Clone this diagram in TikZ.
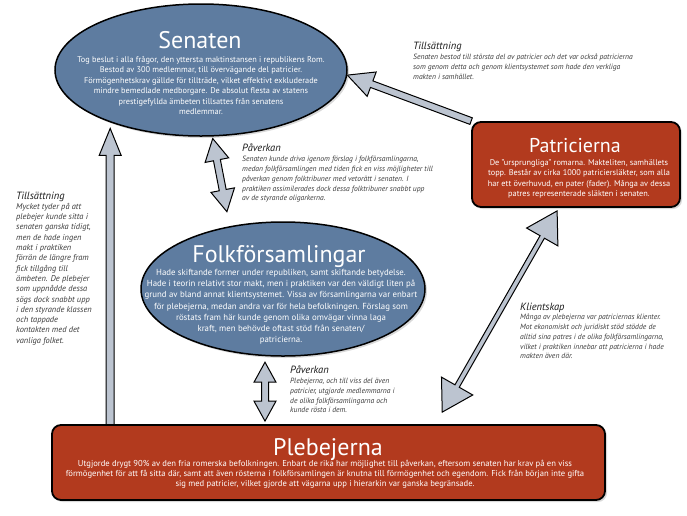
\documentclass[tikz,border=0pt]{standalone}
\usepackage{fontspec}
\setmainfont{PT Sans}
\usetikzlibrary{shapes.geometric,calc,shadows}

\definecolor{senblue}{HTML}{5E7CA0}
\definecolor{patred}{HTML}{B23A1E}
\definecolor{pilgra}{HTML}{BCC4D0}
\definecolor{anttext}{HTML}{3A3A3A}

\pgfdeclarelayer{bakgrund}
\pgfsetlayers{bakgrund,main}

% tjock pil: #1 skaft, #2 spetsens halva bredd, #3 spetsens langd, #4 fran, #5 till
\newcommand{\fatarrow}[5]{%
  \coordinate (fa1) at ($(#5)!#3!(#4)$);
  \filldraw[pil] ($(#4)!#1!90:(#5)$) -- ($(fa1)!#1!90:(#5)$) -- ($(fa1)!#2!90:(#5)$) -- (#5)
    -- ($(fa1)!#2!-90:(#5)$) -- ($(fa1)!#1!-90:(#5)$) -- ($(#4)!#1!-90:(#5)$) -- cycle;}
% tjock dubbelpil
\newcommand{\fatdarrow}[5]{%
  \coordinate (fa1) at ($(#5)!#3!(#4)$);
  \coordinate (fa2) at ($(#4)!#3!(#5)$);
  \filldraw[pil] (#4) -- ($(fa2)!#2!90:(#5)$) -- ($(fa2)!#1!90:(#5)$) -- ($(fa1)!#1!90:(#5)$)
    -- ($(fa1)!#2!90:(#5)$) -- (#5) -- ($(fa1)!#2!-90:(#5)$) -- ($(fa1)!#1!-90:(#5)$)
    -- ($(fa2)!#1!-90:(#5)$) -- ($(fa2)!#2!-90:(#5)$) -- cycle;}

\begin{document}
\begin{tikzpicture}[x=1pt,y=-1pt,
    ellipsebox/.style={ellipse, draw=black, line width=1.5pt, fill=senblue, inner sep=0pt,
      drop shadow={opacity=0.3,shadow xshift=2pt,shadow yshift=-2pt}},
    rutbox/.style={rectangle, rounded corners=9pt, draw=black, line width=1.8pt, fill=patred, inner sep=0pt,
      drop shadow={opacity=0.3,shadow xshift=2pt,shadow yshift=-2pt}},
    rubrik/.style={text=white, anchor=base, inner sep=0pt, font=\fontsize{24}{24}\selectfont},
    brodtext/.style={text=white, align=center, anchor=north, inner sep=0pt, font=\fontsize{8.3}{10.5}\selectfont},
    notrubrik/.style={anchor=base west, inner sep=0pt, text=black!90, font=\fontsize{10.5}{10.5}\selectfont\itshape},
    nottext/.style={align=left, anchor=north west, inner sep=0pt, text=anttext, font=\fontsize{7.6}{9.8}\selectfont\itshape},
    pil/.style={fill=pilgra, draw=black, line width=1pt, line join=miter}]
  \useasboundingbox (0,0) rectangle (687,515);

  % Senaten
  \node at (201,70) (sen) [ellipsebox, minimum width=292pt, minimum height=132pt] {};
  \node at (200,48) (sentitel) [rubrik] {Senaten};
  \node at (201,56) (sentext) [brodtext] {Tog beslut i alla frågor, den yttersta maktinstansen i republikens Rom.\\
    Bestod av 300 medlemmar, till övervägande del patricier.\\
    Förmögenhetskrav gällde för tillträde, vilket effektivt exkluderade\\
    mindre bemedlade medborgare. De absolut flesta av statens\\
    prestigefyllda ämbeten tillsattes från senatens\\
    medlemmar.};

  % Patricierna
  \node at (576,164.5) (pat) [rutbox, minimum width=208pt, minimum height=85pt] {};
  \node at (575,152) (pattitel) [rubrik, font=\fontsize{20}{20}\selectfont] {Patricierna};
  \node at (579,159) (pattext) [brodtext] {De "ursprungliga" romarna. Makteliten, samhällets\\
    topp. Består av cirka 1000 patriciersläkter, som alla\\
    har ett överhuvud, en pater (fader). Många av dessa\\
    patres representerade släkten i senaten.};

  % Folkförsamlingar
  \node at (283,289) (folk) [ellipsebox, minimum width=284pt, minimum height=134pt] {};
  \node at (279,262) (folktitel) [rubrik] {Folkförsamlingar};
  \node at (281,269) (folktext) [brodtext, font=\fontsize{8.8}{11.2}\selectfont] {Hade skiftande former under republiken, samt skiftande betydelse.\\
    Hade i teorin relativt stor makt, men i praktiken var den väldigt liten på\\
    grund av bland annat klientsystemet. Vissa av församlingarna var enbart\\
    för plebejerna, medan andra var för hela befolkningen. Förslag som\\
    röstats fram här kunde genom olika omvägar vinna laga\\
    kraft, men behövde oftast stöd från senaten/\\
    patricierna.};

  % Plebejerna
  \node at (328.5,462.5) (pleb) [rutbox, minimum width=553pt, minimum height=75pt] {};
  \node at (328,455) (plebtitel) [rubrik] {Plebejerna};
  \node at (325,460) (plebtext) [brodtext, font=\fontsize{8.6}{9.8}\selectfont] {Utgjorde drygt 90\% av den fria romerska befolkningen. Enbart de rika har möjlighet till påverkan, eftersom senaten har krav på en viss\\
    förmögenhet för att få sitta där, samt att även rösterna i folkförsamlingen är knutna till förmögenhet och egendom. Fick från början inte gifta\\
    sig med patricier, vilket gjorde att vägarna upp i hierarkin var ganska begränsade.};

  % Texter vid pilarna
  \node at (413,49) (tills1) [notrubrik] {Tillsättning};
  \node at (413,54) (tills1text) [nottext] {Senaten bestod till största del av patricier och det var också patricierna\\
    som genom detta och genom klientsystemet som hade den verkliga\\
    makten i samhället.};
  \node at (242,151) (pav1) [notrubrik] {Påverkan};
  \node at (242,156) (pav1text) [nottext] {Senaten kunde driva igenom förslag i folkförsamlingarna,\\
    medan folkförsamlingen med tiden fick en viss möjligheter till\\
    påverkan genom folktribuner med vetorätt i senaten. I\\
    praktiken assimilerades dock dessa folktribuner snabbt upp\\
    av de styrande oligarkerna.};
  \node at (16,199) (tills2) [notrubrik] {Tillsättning};
  \node at (16,203) (tills2text) [nottext, font=\fontsize{8.4}{10.3}\selectfont\itshape] {Mycket tyder på att\\
    plebejer kunde sitta i\\
    senaten ganska tidigt,\\
    men de hade ingen\\
    makt i praktiken\\
    förrän de längre fram\\
    fick tillgång till\\
    ämbeten. De plebejer\\
    som uppnådde dessa\\
    sögs dock snabbt upp\\
    i den styrande klassen\\
    och tappade\\
    kontakten med det\\
    vanliga folket.};
  \node at (290,373) (pav2) [notrubrik] {Påverkan};
  \node at (290,378) (pav2text) [nottext] {Plebejerna, och till viss del även\\
    patricier, utgjorde medlemmarna i\\
    de olika folkförsamlingarna och\\
    kunde rösta i dem.};
  \node at (520,310) (klient) [notrubrik] {Klientskap};
  \node at (520,314) (klienttext) [nottext] {Många av plebejerna var patriciernas klienter.\\
    Mot ekonomiskt och juridiskt stöd stödde de\\
    alltid sina patres i de olika folkförsamlingarna,\\
    vilket i praktiken innebar att patricierna i hade\\
    makten även där.};

  % Pilar bakom rutorna
  \coordinate (t1) at ($(sen.210 |- pleb.north)+(0,5)$);
  \coordinate (t2) at ($(sen.210)+(0,6)$);
  \coordinate (s1) at ($(sen.-80)+(0,2)$);
  \coordinate (s2) at ($(folk.132)+(0,-15)$);
  \coordinate (f1) at ($(folk.-105)+(0,6)$);
  \coordinate (f2) at ($(folk.-105 |- pleb.north)+(0,-3)$);
  \coordinate (k1) at ($(pat.south west)!0.41!(pat.south east)+(0,3)$);
  \coordinate (k2) at ($(pleb.north west)!0.705!(pleb.north east)+(0,-12)$);
  \begin{pgfonlayer}{bakgrund}
    \fatarrow{4pt}{11pt}{27pt}{t1}{t2}
    \fatarrow{3.5pt}{13pt}{26pt}{pat.north west}{sen.-2}
    \fatdarrow{3.5pt}{12pt}{22pt}{s1}{s2}
    \fatdarrow{3.5pt}{11pt}{20pt}{f1}{f2}
    \fatdarrow{2.5pt}{18pt}{30pt}{k1}{k2}
  \end{pgfonlayer}
\end{tikzpicture}
\end{document}
